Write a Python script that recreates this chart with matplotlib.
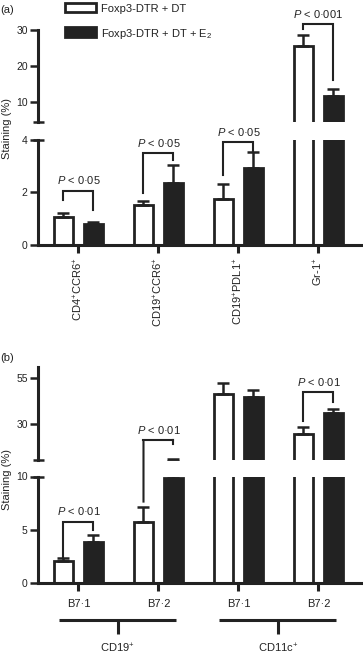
import matplotlib
matplotlib.use('Agg')
import matplotlib.pyplot as plt
from matplotlib.patches import Rectangle, ConnectionPatch
from matplotlib.transforms import blended_transform_factory

plt.rcParams['font.family'] = ['Liberation Sans', 'DejaVu Sans']
plt.rcParams['mathtext.fontset'] = 'custom'
plt.rcParams['mathtext.rm'] = 'Liberation Sans'
plt.rcParams['mathtext.it'] = 'Liberation Sans:italic'
plt.rcParams['mathtext.bf'] = 'Liberation Sans:bold'
plt.rcParams['mathtext.sf'] = 'Liberation Sans'

# ---------------- data ----------------
legend_labels = ['Foxp3-DTR + DT', 'Foxp3-DTR + DT + E$_2$']

a_categories = ['CD4$^{+}$CCR6$^{+}$', 'CD19$^{+}$CCR6$^{+}$',
                'CD19$^{+}$PDL1$^{+}$', 'Gr-1$^{+}$']
a_dt = [1.07, 1.52, 1.75, 25.6]
a_dt_err = [0.14, 0.13, 0.57, 3.0]
a_e2 = [0.79, 2.36, 2.93, 11.7]
a_e2_err = [0.10, 0.66, 0.58, 1.9]
a_pvals = ['0·05', '0·05', '0·05', '0·001']
a_bracket_top = [2.06, 3.47, 3.89, 31.7]
a_bracket_left = [1.71, 1.98, 2.67, 30.3]
a_bracket_right = [1.33, 3.24, 3.53, 16.1]

b_markers = ['B7·1', 'B7·2', 'B7·1', 'B7·2']
b_cell_groups = ['CD19$^{+}$', 'CD11c$^{+}$']
b_dt = [2.05, 5.75, 46.3, 24.6]
b_dt_err = [0.31, 1.42, 6.0, 3.8]
b_e2 = [3.81, 9.9, 44.6, 35.9]
b_e2_err = [0.69, 1.3, 3.9, 2.1]
b_sig_index = [0, 1, 3]
b_pvals = ['0·01', '0·01', '0·01']
b_bracket_top = [5.75, 21.3, 47.4]
b_bracket_left = [2.45, 7.64, 31.6]
b_bracket_right = [4.97, 19.1, 42.0]

# ---------------- layout ----------------
W, H = 363, 655
INK = '#222222'
XL = (-0.5125, 3.544)
OFF = 0.1875
BW = 0.24

fig = plt.figure(figsize=(W / 100, H / 100), dpi=100)


def fx(px):
    return px / W


def fy(py):
    return 1 - py / H


def make_axes(top_px, bot_px):
    return fig.add_axes([fx(37.5), fy(bot_px), fx(362) - fx(37.5),
                         (bot_px - top_px) / H])


def draw_panel(ax_hi, ax_lo, lo_lim, hi_lim, lo_ticks, hi_ticks,
               dt, dt_err, e2, e2_err):
    n = len(dt)
    xs_w = [i - OFF for i in range(n)]
    xs_b = [i + OFF for i in range(n)]
    for ax in (ax_hi, ax_lo):
        ax.bar(xs_w, dt, width=BW, color='white', edgecolor=INK,
               linewidth=2.0, zorder=2)
        ax.bar(xs_b, e2, width=BW, color=INK, edgecolor=INK,
               linewidth=2.0, zorder=2)
        ax.errorbar(xs_w, dt, yerr=[[0] * n, dt_err], fmt='none', ecolor=INK,
                    elinewidth=1.8, capsize=4, capthick=1.8, zorder=3)
        ax.errorbar(xs_b, e2, yerr=[[0] * n, e2_err], fmt='none', ecolor=INK,
                    elinewidth=1.8, capsize=4, capthick=1.8, zorder=3)
        ax.set_xlim(*XL)
        ax.patch.set_visible(False)
        for s in ('top', 'right'):
            ax.spines[s].set_visible(False)
        ax.spines['left'].set_linewidth(2.2)
        ax.spines['left'].set_color(INK)
        ax.tick_params(axis='y', direction='out', length=5.5, width=1.8,
                       labelsize=7.5, pad=1.5, colors=INK)
    ax_hi.spines['bottom'].set_visible(False)
    ax_hi.set_xticks([])
    ax_lo.set_ylim(*lo_lim)
    ax_hi.set_ylim(*hi_lim)
    ax_lo.set_yticks(lo_ticks)
    ax_hi.set_yticks(hi_ticks)
    ax_lo.set_xticks(list(range(n)))
    ax_lo.spines['bottom'].set_linewidth(2.2)
    ax_lo.spines['bottom'].set_color(INK)
    ax_lo.tick_params(axis='x', direction='out', length=6, width=2.2,
                      colors=INK)
    for ax, yv in ((ax_hi, hi_lim[0]), (ax_lo, lo_lim[1])):
        tr = ax.get_yaxis_transform()
        ax.plot([-0.014, 0.02], [yv, yv], transform=tr, color=INK, lw=1.8,
                clip_on=False, solid_capstyle='butt', zorder=5)


def draw_bracket(ax_hi, ax_lo, split, i, top, yl, yr, text):
    xl, xr = i - OFF, i + OFF

    def loc(y):
        return ax_lo if y <= split else ax_hi

    if loc(yl) is loc(top) and loc(yr) is loc(top):
        loc(top).plot([xl, xl, xr, xr], [yl, top, top, yr], color=INK, lw=1.5,
                      clip_on=False, zorder=4, solid_joinstyle='miter')
    else:
        for (x0, y0, x1, y1) in ((xl, yl, xl, top), (xl, top, xr, top),
                                 (xr, top, xr, yr)):
            a0, a1 = loc(y0), loc(y1)
            if a0 is a1:
                a0.plot([x0, x1], [y0, y1], color=INK, lw=1.5, clip_on=False,
                        zorder=4, solid_capstyle='projecting')
            else:
                con = ConnectionPatch(xyA=(x0, y0), coordsA=a0.transData,
                                      xyB=(x1, y1), coordsB=a1.transData,
                                      color=INK, lw=1.5, capstyle='projecting')
                fig.add_artist(con)
    loc(top).annotate('$P$ < ' + text, xy=(i, top), xytext=(0, 4.5),
                      textcoords='offset points', ha='center', va='baseline',
                      fontsize=8, color=INK, annotation_clip=False)


# ---------------- panel (a) ----------------
axa_hi = make_axes(30, 122)
axa_lo = make_axes(139.5, 245)
draw_panel(axa_hi, axa_lo, (0, 4), (4.44, 30), [0, 2, 4], [10, 20, 30],
           a_dt, a_dt_err, a_e2, a_e2_err)
axa_lo.set_xticklabels(a_categories, rotation=90, fontsize=8)
axa_lo.tick_params(axis='x', pad=3)
for i in range(len(a_dt)):
    draw_bracket(axa_hi, axa_lo, 4.2, i, a_bracket_top[i], a_bracket_left[i],
                 a_bracket_right[i], a_pvals[i])

# ---------------- panel (b) ----------------
axb_hi = make_axes(367, 460)
axb_lo = make_axes(476.5, 582.7)
draw_panel(axb_hi, axb_lo, (0, 10), (10.5, 61), [0, 5, 10], [30, 55],
           b_dt, b_dt_err, b_e2, b_e2_err)
axb_lo.set_xticklabels(b_markers, fontsize=8)
axb_lo.tick_params(axis='x', pad=6)
for k, i in enumerate(b_sig_index):
    draw_bracket(axb_hi, axb_lo, 10.3, i, b_bracket_top[k], b_bracket_left[k],
                 b_bracket_right[k], b_pvals[k])

trb = blended_transform_factory(axb_lo.transData, fig.transFigure)
for k, name in enumerate(b_cell_groups):
    x0 = 2 * k - 0.24
    x1 = 2 * k + 1 + 0.22
    xm = (x0 + x1) / 2
    axb_lo.plot([x0, x1], [fy(620), fy(620)], transform=trb, color=INK,
                lw=2.2, clip_on=False, solid_capstyle='butt')
    axb_lo.plot([xm, xm], [fy(620), fy(634)], transform=trb, color=INK,
                lw=2.2, clip_on=False, solid_capstyle='butt')
    axb_lo.text(xm, fy(648), name, transform=trb, ha='center', va='center',
                fontsize=8, color=INK)

# ---------------- shared text / legend ----------------
for yc in (128.5, 480):
    fig.text(fx(7.5), fy(yc), 'Staining (%)', rotation=90, ha='center',
             va='center', fontsize=8, color=INK)
fig.text(fx(0.5), fy(10), '(a)', ha='left', va='center', fontsize=8, color=INK)
fig.text(fx(0.5), fy(358), '(b)', ha='left', va='center', fontsize=8, color=INK)

fig.add_artist(Rectangle((fx(64.5), fy(12)), fx(96) - fx(64.5), 9.5 / H,
                         transform=fig.transFigure, facecolor='white',
                         edgecolor=INK, lw=2))
fig.add_artist(Rectangle((fx(64.5), fy(37)), fx(96) - fx(64.5), 10 / H,
                         transform=fig.transFigure, facecolor=INK,
                         edgecolor=INK, lw=2))
fig.text(fx(101), fy(11.7), legend_labels[0], ha='left', va='baseline',
         fontsize=8, color=INK)
fig.text(fx(101), fy(37.3), legend_labels[1], ha='left', va='baseline',
         fontsize=8, color=INK)

fig.savefig('out.png', dpi=100)
